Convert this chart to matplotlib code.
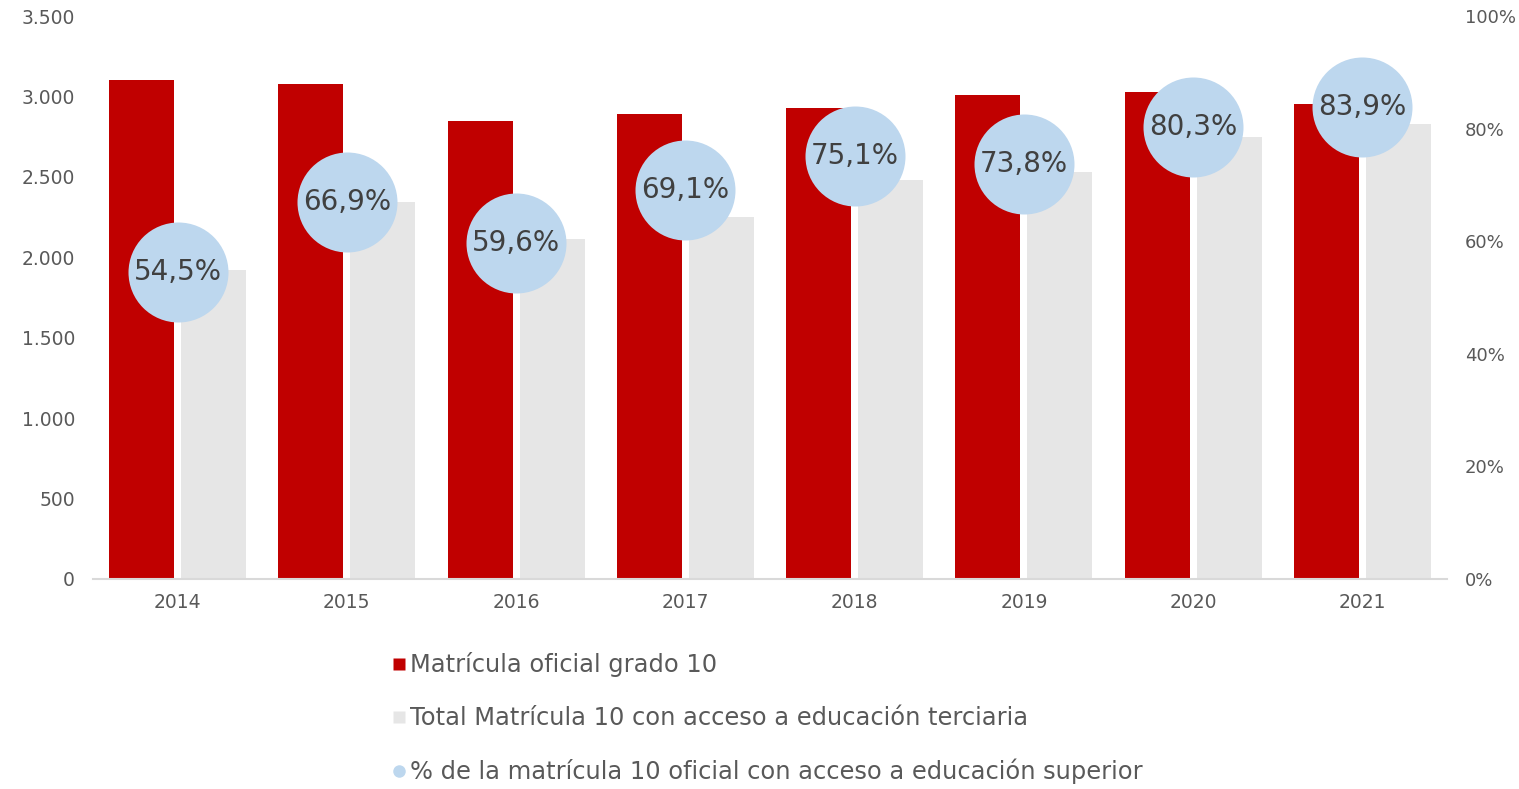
import numpy as np
import matplotlib.pyplot as plt
from matplotlib.lines import Line2D

plt.rcParams['font.family'] = ['DejaVu Sans']

# data
years = ['2014', '2015', '2016', '2017', '2018', '2019', '2020', '2021']
matricula_10 = [3101, 3077, 2847, 2890, 2927, 3008, 3027, 2952]
acceso_terciaria = [1920, 2343, 2113, 2250, 2480, 2530, 2747, 2828]
pct_superior = [54.5, 66.9, 59.6, 69.1, 75.1, 73.8, 80.3, 83.9]

red = '#C00000'
grey = '#E6E6E6'
blue = '#BDD7EE'
txt = '#595959'

fig = plt.figure(figsize=(15.19, 7.89), dpi=100)
ax = fig.add_axes([93/1519, 1 - 579/789, (1447 - 93)/1519, (579 - 16)/789])

x = np.arange(len(years))
w = 0.384
ax.bar(x - 0.213, matricula_10, width=w, color=red, zorder=2)
ax.bar(x + 0.213, acceso_terciaria, width=w, color=grey, zorder=2)

ax.set_xlim(-0.5, len(years) - 0.5)
ax.set_ylim(0, 3500)
ax.set_yticks(np.arange(0, 3501, 500))
ax.set_yticklabels([f'{v:,}'.replace(',', '.') for v in range(0, 3501, 500)])
ax.set_xticks(x)
ax.set_xticklabels(years)
ax.tick_params(axis='both', length=0, labelsize=13.5, colors=txt)
ax.tick_params(axis='y', pad=13)
ax.tick_params(axis='x', pad=10)
for s in ['top', 'right', 'left']:
    ax.spines[s].set_visible(False)
ax.spines['bottom'].set_color('#D9D9D9')
ax.spines['bottom'].set_linewidth(1.5)

ax2 = ax.twinx()
ax2.set_ylim(0, 100)
ax2.set_yticks(np.arange(0, 101, 20))
ax2.set_yticklabels([f'{v}%' for v in range(0, 101, 20)])
ax2.tick_params(axis='y', length=0, labelsize=13, colors=txt, pad=13)
for s in ax2.spines.values():
    s.set_visible(False)
ax2.plot(x, pct_superior, linestyle='none', marker='o', markersize=72,
         markerfacecolor=blue, markeredgecolor='none', zorder=3)
for xi, p in zip(x, pct_superior):
    ax2.text(xi, p, f'{p:.1f}%'.replace('.', ','), ha='center', va='center',
             fontsize=20, color='#404040', zorder=4)

handles = [
    Line2D([], [], linestyle='none', marker='s', markersize=8, markerfacecolor=red, markeredgecolor='none'),
    Line2D([], [], linestyle='none', marker='s', markersize=8, markerfacecolor=grey, markeredgecolor='none'),
    Line2D([], [], linestyle='none', marker='o', markersize=9, markerfacecolor=blue, markeredgecolor='none'),
]
labels = ['Matrícula oficial grado 10',
          'Total Matrícula 10 con acceso a educación terciaria',
          '% de la matrícula 10 oficial con acceso a educación superior']
leg = fig.legend(handles, labels, loc='upper left', bbox_to_anchor=(392/1519, 1 - 652/789),
                 frameon=False, fontsize=17.4, labelspacing=1.2, handlelength=0.6,
                 handletextpad=0.13, borderpad=0, borderaxespad=0)
for t in leg.get_texts():
    t.set_color(txt)

fig.savefig('out.png', dpi=100)
